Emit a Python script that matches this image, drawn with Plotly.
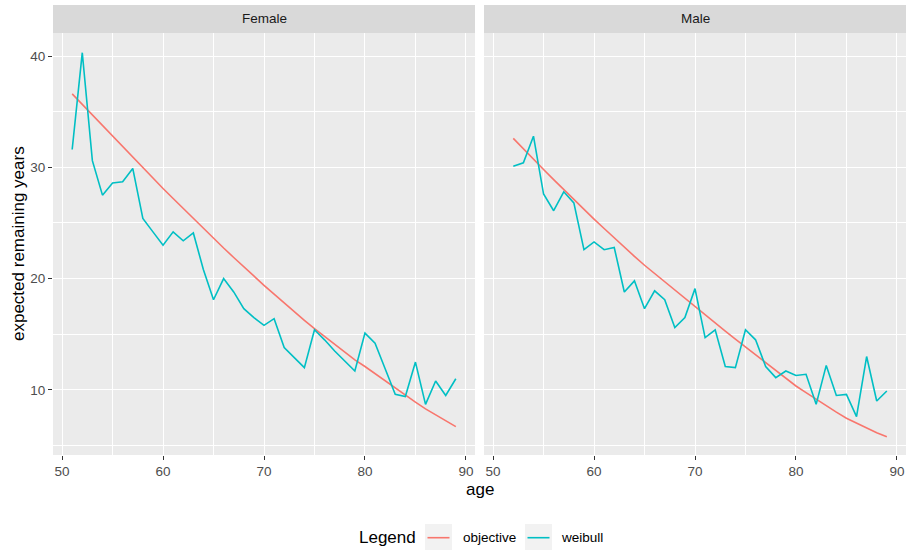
import plotly.graph_objects as go

# Ages per panel
ages_female = list(range(51, 90))
ages_male = list(range(52, 90))

# Expected remaining years
female_objective = [36.6, 35.65, 34.7, 33.75, 32.8, 31.85, 30.9, 29.95, 29.0, 28.1,
                    27.2, 26.3, 25.4, 24.5, 23.6, 22.75, 21.9, 21.05, 20.2, 19.4,
                    18.6, 17.8, 17.0, 16.25, 15.5, 14.8, 14.1, 13.4, 12.7, 12.1,
                    11.45, 10.8, 10.15, 9.5, 8.9, 8.3, 7.75, 7.2, 6.7]
female_weibull = [31.6, 40.3, 30.6, 27.5, 28.6, 28.7, 29.9, 25.4, 24.2, 23.0,
                  24.2, 23.4, 24.1, 20.8, 18.1, 20.0, 18.8, 17.3, 16.5, 15.8,
                  16.4, 13.8, 12.9, 12.0, 15.4, 14.5, 13.5, 12.6, 11.7, 15.1,
                  14.2, 11.9, 9.6, 9.4, 12.5, 8.7, 10.8, 9.5, 11.0]
male_objective = [32.6, 31.65, 30.7, 29.8, 28.9, 28.0, 27.1, 26.2, 25.35, 24.5,
                  23.65, 22.8, 22.0, 21.2, 20.45, 19.7, 18.95, 18.2, 17.45, 16.72,
                  16.0, 15.28, 14.57, 13.86, 13.15, 12.45, 11.75, 11.05, 10.35, 9.75,
                  9.15, 8.55, 8.0, 7.45, 7.0, 6.55, 6.15, 5.8]
male_weibull = [30.1, 30.4, 32.8, 27.6, 26.1, 27.8, 26.8, 22.6, 23.3, 22.6,
                22.8, 18.8, 19.8, 17.3, 18.9, 18.1, 15.6, 16.5, 19.1, 14.7,
                15.4, 12.1, 12.0, 15.4, 14.5, 12.1, 11.1, 11.7, 11.3, 11.4,
                8.7, 12.2, 9.5, 9.6, 7.6, 13.0, 9.0, 9.9]

panels = ["Female", "Male"]
series_names = ["objective", "weibull"]
x_ticks = [50, 60, 70, 80, 90]
y_ticks = [10, 20, 30, 40]

COL_OBJ = "#F8766D"
COL_WEI = "#00BFC4"
FONT = "Liberation Sans, Arial, sans-serif"

W, H = 906, 550
ML, MR, MT, MB = 53, 0, 33, 95
plot_w = W - ML - MR
plot_h = H - MT - MB
gap = 9  # px between panels
split = (plot_w - gap) / 2 / plot_w


def px_x(x):
    return (x - ML) / plot_w


def px_y(y):
    return (MT + plot_h - y) / plot_h


fig = go.Figure()

fig.add_trace(go.Scatter(x=ages_female, y=female_objective, mode="lines",
                         line=dict(color=COL_OBJ, width=1.6), name="objective",
                         xaxis="x", yaxis="y"))
fig.add_trace(go.Scatter(x=ages_female, y=female_weibull, mode="lines",
                         line=dict(color=COL_WEI, width=1.6), name="weibull",
                         xaxis="x", yaxis="y"))
fig.add_trace(go.Scatter(x=ages_male, y=male_objective, mode="lines",
                         line=dict(color=COL_OBJ, width=1.6), name="objective",
                         xaxis="x2", yaxis="y2"))
fig.add_trace(go.Scatter(x=ages_male, y=male_weibull, mode="lines",
                         line=dict(color=COL_WEI, width=1.6), name="weibull",
                         xaxis="x2", yaxis="y2"))

x_range = [49.1, 90.9]
y_range = [4.15, 42.07]

minor_grid = dict(dtick=5, tick0=0, showgrid=True, gridcolor="white",
                  gridwidth=0.55, ticks="")
axis_common = dict(
    showgrid=True, gridcolor="white", gridwidth=1.1, zeroline=False,
    showline=False, ticklen=4, tickwidth=1.1,
    tickcolor="#333333", tickfont=dict(family=FONT, size=13.5, color="#4D4D4D"),
    minor=minor_grid,
)

fig.update_layout(
    width=W, height=H,
    margin=dict(l=ML, r=MR, t=MT, b=MB, pad=0),
    paper_bgcolor="white", plot_bgcolor="#EBEBEB",
    font=dict(family=FONT),
    showlegend=False,
    xaxis=dict(domain=[0, split], range=x_range, tickvals=x_ticks,
               ticks="outside", **axis_common),
    xaxis2=dict(domain=[1 - split, 1], range=x_range, tickvals=x_ticks,
                ticks="outside", **axis_common),
    yaxis=dict(range=y_range, tickvals=y_ticks, ticks="outside", **axis_common),
    yaxis2=dict(range=y_range, tickvals=y_ticks, anchor="x2", matches="y",
                showticklabels=False, ticks="", **axis_common),
)

shapes = []
annotations = []

# Facet strips
strip_top = px_y(5)
for i, name in enumerate(panels):
    x0, x1 = (0, split) if i == 0 else (1 - split, 1)
    shapes.append(dict(type="rect", xref="paper", yref="paper",
                       x0=x0, x1=x1, y0=1, y1=strip_top,
                       fillcolor="#D9D9D9", line=dict(width=0), layer="below"))
    annotations.append(dict(text=name, xref="paper", yref="paper",
                            x=(x0 + x1) / 2, y=(1 + strip_top) / 2,
                            xanchor="center", yanchor="middle", showarrow=False,
                            font=dict(family=FONT, size=13.5, color="#1A1A1A")))

# Axis titles
annotations.append(dict(text="age", xref="paper", yref="paper", x=0.5,
                        y=px_y(489), xanchor="center", yanchor="middle",
                        showarrow=False,
                        font=dict(family=FONT, size=17, color="black")))
annotations.append(dict(text="expected remaining years", xref="paper", yref="paper",
                        x=px_x(18), y=0.5, xanchor="center", yanchor="middle",
                        textangle=-90, showarrow=False,
                        font=dict(family=FONT, size=17, color="black")))

# Legend: title, key boxes with line glyphs, labels
leg_y = 537.7
annotations.append(dict(text="Legend", xref="paper", yref="paper",
                        x=px_x(357), y=px_y(leg_y), xanchor="left", yanchor="middle",
                        showarrow=False,
                        font=dict(family=FONT, size=17, color="black")))
key_boxes = [(425, 452), (525, 552)]
label_x = [461, 559]
for (bx0, bx1), lx, name, col in zip(key_boxes, label_x, series_names,
                                     [COL_OBJ, COL_WEI]):
    shapes.append(dict(type="rect", xref="paper", yref="paper",
                       x0=px_x(bx0), x1=px_x(bx1), y0=px_y(551), y1=px_y(524),
                       fillcolor="#F2F2F2", line=dict(width=0)))
    shapes.append(dict(type="line", xref="paper", yref="paper",
                       x0=px_x(bx0 + 2.5), x1=px_x(bx1 - 2.5),
                       y0=px_y(leg_y), y1=px_y(leg_y),
                       line=dict(color=col, width=1.6)))
    annotations.append(dict(text=name, xref="paper", yref="paper",
                            x=px_x(lx), y=px_y(leg_y), xanchor="left",
                            yanchor="middle", showarrow=False,
                            font=dict(family=FONT, size=13.5, color="black")))

fig.update_layout(shapes=shapes, annotations=annotations)

fig.write_html("out.html")
